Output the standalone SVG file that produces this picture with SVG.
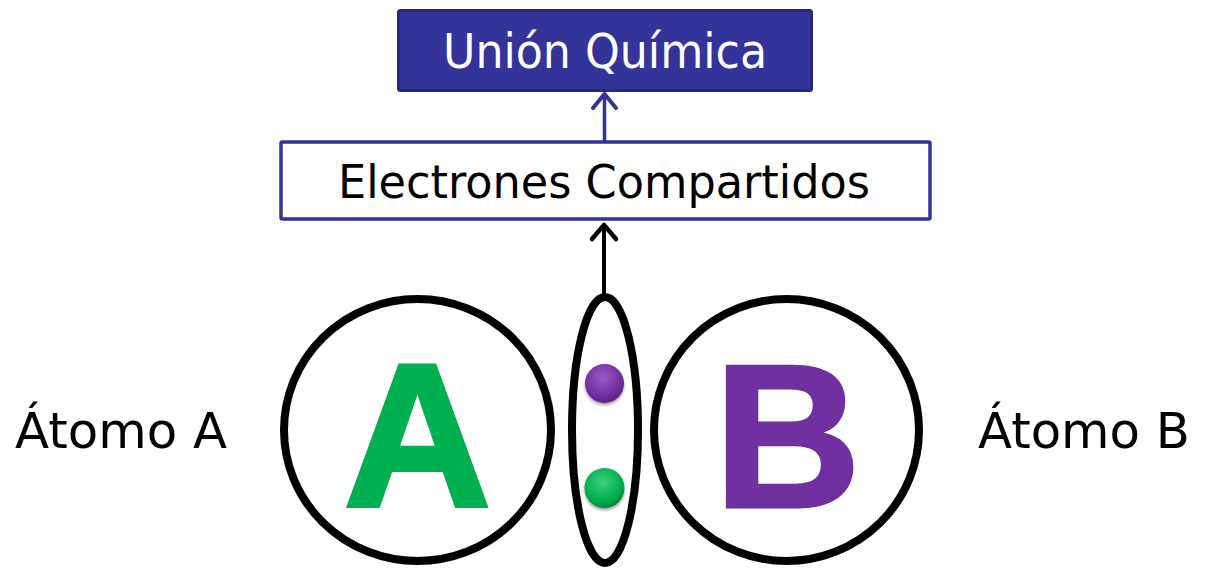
<svg xmlns="http://www.w3.org/2000/svg" width="1205" height="569" viewBox="0 0 1205 569">
  <style>
    .lbl { font-family: "DejaVu Sans", "Liberation Sans", sans-serif; fill: #000; }
    .big { font-family: "Liberation Sans", Arial, sans-serif; font-weight: bold; font-size: 204px; text-anchor: middle; stroke-linejoin: miter; }
    .ring { fill: none; stroke: #000; stroke-width: 8; }
  </style>
  <defs>
    <radialGradient id="gPurple" cx="0.45" cy="0.35" r="0.65">
      <stop offset="0" stop-color="#9a5cc8"/>
      <stop offset="0.7" stop-color="#7030a0"/>
      <stop offset="1" stop-color="#5a2385"/>
    </radialGradient>
    <radialGradient id="gGreen" cx="0.45" cy="0.35" r="0.65">
      <stop offset="0" stop-color="#3fd07f"/>
      <stop offset="0.7" stop-color="#00b050"/>
      <stop offset="1" stop-color="#008a3e"/>
    </radialGradient>
    <filter id="sh" x="-50%" y="-50%" width="200%" height="200%">
      <feGaussianBlur in="SourceAlpha" stdDeviation="1.5"/>
      <feOffset dx="0" dy="2" result="b"/>
      <feComponentTransfer><feFuncA type="linear" slope="0.4"/></feComponentTransfer>
      <feMerge><feMergeNode/><feMergeNode in="SourceGraphic"/></feMerge>
    </filter>
  </defs>
  <rect width="1205" height="569" fill="#fff"/>

  <g id="union">
    <rect x="398.5" y="10.5" width="413" height="80" rx="2" fill="#333399" stroke="#28287a" stroke-width="3"/>
    <text x="443" y="68" font-size="48" textLength="324" lengthAdjust="spacingAndGlyphs" style="font-family:'DejaVu Sans','Liberation Sans',sans-serif;fill:#fff">Unión Química</text>
  </g>

  <g id="electrones">
    <rect x="281" y="142" width="649" height="77" rx="1.5" fill="#fff" stroke="#333399" stroke-width="3.5"/>
    <text class="lbl" x="338" y="198" font-size="46" textLength="532" lengthAdjust="spacingAndGlyphs">Electrones Compartidos</text>
  </g>

  <g id="atomoA">
    <ellipse class="ring" cx="417.5" cy="430" rx="133.5" ry="131"/>
    <text class="big" x="417.5" y="506" fill="#00b050" stroke="#00b050" stroke-width="4">A</text>
  </g>

  <g id="atomoB">
    <ellipse class="ring" cx="786.5" cy="430" rx="132.5" ry="131"/>
    <text class="big" x="787.5" y="506.5" fill="#7030a0" stroke="#7030a0" stroke-width="3">B</text>
  </g>

  <g id="par">
    <ellipse class="ring" cx="605" cy="430" rx="33" ry="133"/>
    <circle cx="604.5" cy="383.5" r="19.5" fill="url(#gPurple)" filter="url(#sh)"/>
    <circle cx="604.5" cy="488" r="20" fill="url(#gGreen)" filter="url(#sh)"/>
  </g>

  <g id="labelA">
    <text class="lbl" x="15" y="448" font-size="49" textLength="212" lengthAdjust="spacingAndGlyphs">Átomo A</text>
  </g>
  <g id="labelB">
    <text class="lbl" x="978" y="448" font-size="49" textLength="212" lengthAdjust="spacingAndGlyphs">Átomo B</text>
  </g>

  <g id="connectors" fill="none" stroke-linecap="round" stroke-linejoin="round">
    <line x1="604" y1="294" x2="604" y2="225" stroke="#000" stroke-width="4"/>
    <polyline points="592,239 604,225 616,239" stroke="#000" stroke-width="4.5"/>
    <line x1="604.5" y1="141" x2="604.5" y2="94" stroke="#333399" stroke-width="3.5"/>
    <polyline points="593,108 604.5,94 616,108" stroke="#333399" stroke-width="4"/>
  </g>
</svg>
